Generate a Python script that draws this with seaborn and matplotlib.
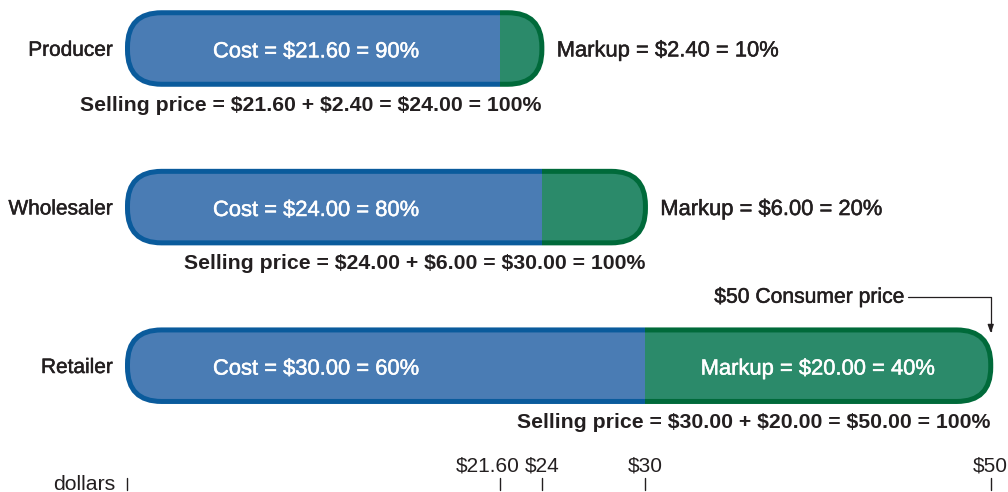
import matplotlib
matplotlib.use("Agg")
import matplotlib.pyplot as plt
import matplotlib.patheffects as pe
from matplotlib.patches import FancyBboxPatch, Rectangle
import pandas as pd
import seaborn as sns

# Price build-up along the channel
stages = ["Producer", "Wholesaler", "Retailer"]
costs = [21.60, 24.00, 30.00]
markups = [2.40, 6.00, 20.00]
cost_pct = [90, 80, 60]
markup_pct = [10, 20, 40]
tick_values = [0, 21.60, 24, 30, 50]
tick_labels = ["", "$21.60", "$24", "$30", "$50"]
consumer_price = 50

totals = [c + m for c, m in zip(costs, markups)]
df = pd.DataFrame({"stage": stages, "cost": costs, "total": totals})

sns.set_style("white")
plt.rcParams["font.family"] = ["Liberation Sans", "DejaVu Sans"]
plt.rcParams["text.parse_math"] = False

BLUE_FILL = "#4a7cb4"
BLUE_EDGE = "#0a5b9c"
GREEN_FILL = "#2b8a6a"
GREEN_EDGE = "#006a3a"
INK = "#231f20"

fig = plt.figure(figsize=(10.08, 4.92), dpi=100)
ax = fig.add_axes([0, 0, 1, 1])

BAR_H = 0.451
sns.barplot(data=df, y="stage", x="total", color=GREEN_FILL, orient="h",
            width=BAR_H, saturation=1, linewidth=0, ax=ax)
sns.barplot(data=df, y="stage", x="cost", color=BLUE_FILL, orient="h",
            width=BAR_H, saturation=1, linewidth=0, ax=ax)

ax.set_xlim(-7.385, 51.0)
ax.set_ylim(2.7963, -0.3058)
ax.axis("off")

# rounded outline: equal pixel radius in x and y
px_x = 1008 / (51.0 + 7.385)
px_y = 492 / (2.7963 + 0.3058)
aspect = px_x / px_y
radius = 34 / px_x
LW = 3.6

medium = [pe.withStroke(linewidth=0.35, foreground=INK)]
medium_white = [pe.withStroke(linewidth=0.35, foreground="white")]

for k, (stage, c, m, t) in enumerate(zip(stages, costs, markups, totals)):
    def rounded(**kw):
        return FancyBboxPatch((0, k - BAR_H / 2), t, BAR_H,
                              boxstyle=f"round,pad=0,rounding_size={radius}",
                              mutation_aspect=aspect, transform=ax.transData, **kw)

    clip = rounded(fill=False, linewidth=0)
    ax.containers[0][k].set_clip_path(clip)
    ax.containers[1][k].set_clip_path(clip)

    for lo, hi, col in [(-10, c, BLUE_EDGE), (c, 70, GREEN_EDGE)]:
        edge = rounded(fill=False, edgecolor=col, linewidth=LW, zorder=3)
        ax.add_patch(edge)
        box = Rectangle((lo, k - 0.5), hi - lo, 1.0, transform=ax.transData)
        edge.set_clip_path(box)

    ax.text(-0.84, k + 0.046, stage, ha="right", va="baseline",
            fontsize=15, color=INK, path_effects=medium)
    ax.text(4.95, k + 0.056, f"Cost = ${c:.2f} = {cost_pct[k]}%", ha="left",
            va="baseline", fontsize=15.8, color="white", zorder=4,
            path_effects=medium_white)
    mk = f"Markup = ${m:.2f} = {markup_pct[k]}%"
    if m / t >= 0.3:
        ax.text(c + m / 2, k + 0.056, mk, ha="center", va="baseline",
                fontsize=15.8, color="white", zorder=4, path_effects=medium_white)
    else:
        ax.text(t + 0.86, k + 0.05, mk, ha="left", va="baseline",
                fontsize=15.8, color=INK, path_effects=medium)
    ax.text(t, k + 0.391,
            f"Selling price = ${c:.2f} + ${m:.2f} = ${t:.2f} = 100%",
            ha="right", va="baseline", fontsize=15.3, fontweight="bold", color=INK)

# consumer price callout
ax.text(45.0, 1.603, f"${consumer_price} Consumer price", ha="right",
        va="baseline", fontsize=15.2, color=INK, path_effects=medium)
ax.annotate("", xy=(consumer_price, 1.795), xytext=(45.2, 1.565),
            arrowprops=dict(arrowstyle="-|>,head_length=0.5,head_width=0.18",
                            connectionstyle="angle,angleA=0,angleB=90,rad=0",
                            color=INK, linewidth=0.9, shrinkA=0, shrinkB=0))

# dollar scale; the $21.60 label sits left of its tick to clear $24
for v, lab in zip(tick_values, tick_labels):
    ax.plot([v, v], [2.708, 2.784], color=INK, linewidth=1.0)
    if not lab:
        continue
    if v == 21.60:
        ax.text(v + 1.1, 2.668, lab, ha="right", va="baseline",
                fontsize=15, color=INK)
    else:
        ax.text(v, 2.668, lab, ha="center", va="baseline", fontsize=15,
                color=INK)
ax.text(-0.72, 2.784, "dollars", ha="right", va="baseline", fontsize=15.3,
        color=INK)

fig.savefig("out.png", dpi=100)
